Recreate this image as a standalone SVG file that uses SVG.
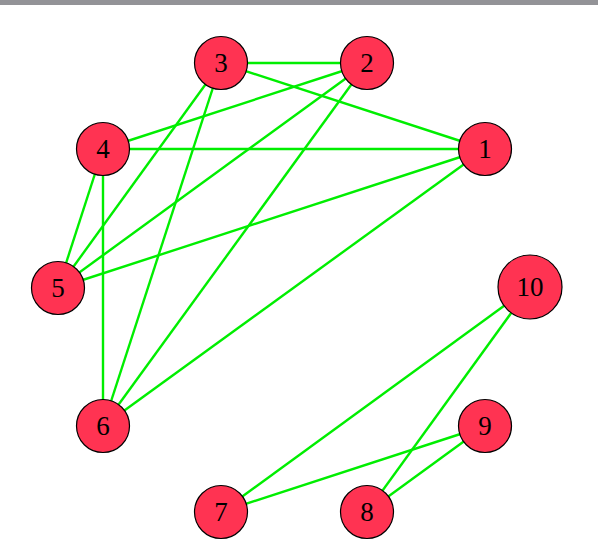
<svg xmlns="http://www.w3.org/2000/svg" width="598" height="540" viewBox="0 0 598 540">
<style>
.n{fill:#ff3352;stroke:#000;stroke-width:1.2}
text{font-family:"Liberation Serif","DejaVu Serif",serif;fill:#000;text-anchor:middle}
.e{stroke:#00ee00;stroke-width:2.4;fill:none}
</style>
<rect x="0" y="0" width="598" height="5" fill="#939397"/>
<g id="edges">
<line class="e" x1="221" y1="63" x2="367" y2="63"/>
<line class="e" x1="221" y1="63" x2="485" y2="149"/>
<line class="e" x1="103" y1="149" x2="367" y2="63"/>
<line class="e" x1="103" y1="149" x2="485" y2="149"/>
<line class="e" x1="221" y1="63" x2="58" y2="288"/>
<line class="e" x1="367" y1="63" x2="58" y2="288"/>
<line class="e" x1="221" y1="63" x2="103" y2="426"/>
<line class="e" x1="367" y1="63" x2="103" y2="426"/>
<line class="e" x1="103" y1="149" x2="58" y2="288"/>
<line class="e" x1="103" y1="149" x2="103" y2="426"/>
<line class="e" x1="58" y1="288" x2="485" y2="149"/>
<line class="e" x1="103" y1="426" x2="485" y2="149"/>
<line class="e" x1="530" y1="287" x2="221" y2="512"/>
<line class="e" x1="530" y1="287" x2="367" y2="512"/>
<line class="e" x1="485" y1="426" x2="221" y2="512"/>
<line class="e" x1="485" y1="426" x2="367" y2="512"/>
</g>
<g id="node1"><circle class="n" cx="485" cy="149" r="26.5"/><text x="485" y="158" font-size="27">1</text></g>
<g id="node2"><circle class="n" cx="367" cy="63" r="26.5"/><text x="367" y="72" font-size="27">2</text></g>
<g id="node3"><circle class="n" cx="221" cy="63" r="26.5"/><text x="221" y="72" font-size="27">3</text></g>
<g id="node4"><circle class="n" cx="103" cy="149" r="26.5"/><text x="103" y="158" font-size="27">4</text></g>
<g id="node5"><circle class="n" cx="58" cy="288" r="26.5"/><text x="58" y="297" font-size="27">5</text></g>
<g id="node6"><circle class="n" cx="103" cy="426" r="26.5"/><text x="103" y="435" font-size="27">6</text></g>
<g id="node7"><circle class="n" cx="221" cy="512" r="26.5"/><text x="221" y="521" font-size="27">7</text></g>
<g id="node8"><circle class="n" cx="367" cy="512" r="26.5"/><text x="367" y="521" font-size="27">8</text></g>
<g id="node9"><circle class="n" cx="485" cy="426" r="26.5"/><text x="485" y="435" font-size="27">9</text></g>
<g id="node10"><circle class="n" cx="530" cy="287" r="32"/><text x="530" y="296" font-size="27">10</text></g>
</svg>
